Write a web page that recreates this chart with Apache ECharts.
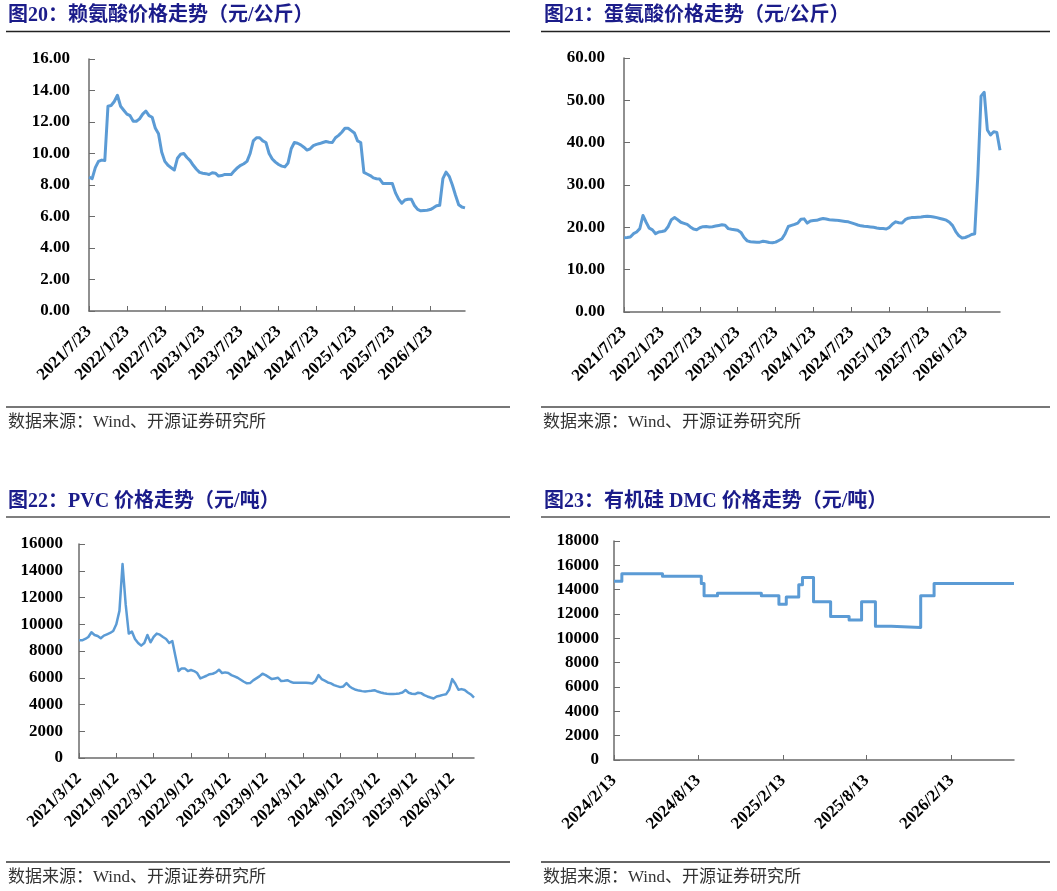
<!DOCTYPE html>
<html>
<head>
<meta charset="utf-8">
<script src="https://cdn.jsdelivr.net/npm/echarts@6/dist/echarts.min.js"></script>
<style>
  html, body { margin: 0; padding: 0; background: #fff; }
  #main { width: 1057px; height: 891px; }
</style>
</head>
<body>
<div id="main"></div>
<script>
// 赖氨酸 (元/公斤), semi-monthly from 2021/7/23
const lysineValues = [
  8.5, 8.4, 9.1, 9.5, 9.58, 9.55, 13.0, 13.05, 13.3, 13.7,
  13.0, 12.75, 12.5, 12.4, 12.05, 12.05, 12.2, 12.5, 12.7, 12.4,
  12.3, 11.6, 11.25, 10.1, 9.5, 9.25, 9.1, 8.95, 9.7, 9.95,
  10.0, 9.75, 9.55, 9.25, 9.0, 8.8, 8.75, 8.72, 8.67, 8.78,
  8.75, 8.57, 8.6, 8.67, 8.67, 8.67, 8.9, 9.1, 9.25, 9.35,
  9.5, 10.0, 10.8, 11.0, 11.0, 10.8, 10.7, 10.0, 9.65, 9.45,
  9.3, 9.2, 9.15, 9.4, 10.3, 10.7, 10.65, 10.55, 10.4, 10.22,
  10.3, 10.5, 10.58, 10.63, 10.7, 10.76, 10.72, 10.7, 11.0, 11.15,
  11.35, 11.6, 11.6, 11.45, 11.3, 10.8, 10.7, 8.8, 8.7, 8.6,
  8.45, 8.4, 8.38, 8.1, 8.1, 8.1, 8.1, 7.5, 7.1, 6.84,
  7.05, 7.1, 7.1, 6.7, 6.45, 6.36, 6.38, 6.4, 6.44, 6.55,
  6.68, 6.71, 8.4, 8.82, 8.55, 8.0, 7.35, 6.75, 6.6, 6.55
];
// 蛋氨酸 (元/公斤), same dates
const methionineValues = [
  17.55, 17.6, 17.7, 18.5, 18.9, 19.7, 22.8, 21.2, 19.8, 19.4,
  18.5, 18.9, 19.0, 19.2, 20.2, 21.8, 22.3, 21.8, 21.2, 20.95,
  20.7, 20.1, 19.6, 19.45, 19.9, 20.15, 20.2, 20.1, 20.15, 20.3,
  20.45, 20.6, 20.5, 19.7, 19.55, 19.45, 19.3, 18.8, 17.6, 16.8,
  16.6, 16.55, 16.5, 16.5, 16.7, 16.6, 16.4, 16.35, 16.5, 16.9,
  17.3, 18.5, 20.2, 20.45, 20.7, 21.0, 21.9, 22.0, 21.0, 21.5,
  21.6, 21.65, 21.9, 22.1, 21.95, 21.8, 21.75, 21.7, 21.6, 21.5,
  21.4, 21.3, 21.05, 20.8, 20.55, 20.35, 20.25, 20.2, 20.1, 20.0,
  19.85, 19.75, 19.7, 19.6, 20.0, 20.8, 21.3, 21.1, 21.0, 21.8,
  22.15, 22.3, 22.35, 22.4, 22.45, 22.55, 22.6, 22.55, 22.45, 22.3,
  22.1, 21.9, 21.7, 21.2, 20.4, 19.0, 18.0, 17.5, 17.6, 17.9,
  18.3, 18.5, 32.5, 51.0, 51.9, 43.0, 41.8, 42.6, 42.4, 38.2
];
// PVC (元/吨), semi-monthly from 2021/3/12
const pvcValues = [
  8800, 8800, 8900, 9050, 9400, 9200, 9125, 8950, 9150, 9250,
  9350, 9500, 10000, 11000, 14500, 11500, 9300, 9450, 8900, 8600,
  8400, 8600, 9200, 8650, 9050, 9300, 9220, 9050, 8900, 8600,
  8750, 7600, 6500, 6700, 6700, 6500, 6580, 6500, 6350, 5950,
  6050, 6150, 6270, 6300, 6400, 6600, 6350, 6400, 6350, 6200,
  6100, 6000, 5850, 5700, 5580, 5600, 5800, 5950, 6100, 6300,
  6200, 6050, 5900, 5950, 6000, 5750, 5780, 5820, 5700, 5620,
  5630, 5620, 5630, 5620, 5600, 5570, 5750, 6200, 5900, 5780,
  5650, 5580, 5450, 5370, 5300, 5350, 5600, 5350, 5200, 5100,
  5040, 5000, 4970, 5000, 5030, 5070, 4970, 4900, 4840, 4800,
  4780, 4780, 4800, 4830, 4900, 5080, 4880, 4800, 4780, 4880,
  4850, 4700, 4600, 4520, 4450, 4600, 4650, 4720, 4760, 5100,
  5900, 5550, 5100, 5150, 5080, 4900, 4750, 4520
];
// 有机硅 DMC (元/吨): price change dates and values
const dmcDates = ['2024-02-13', '2024-03-01', '2024-05-28', '2024-08-20', '2024-08-26', '2024-09-24',
  '2024-12-28', '2025-02-04', '2025-02-20', '2025-03-19', '2025-03-27', '2025-04-20', '2025-05-27',
  '2025-07-06', '2025-08-02', '2025-09-01', '2025-10-05', '2025-12-08', '2026-01-06', '2026-06-28'];
const dmcValues = [14700, 15300, 15100, 14500, 13500, 13700, 13500, 12800, 13400, 14400, 15000,
  13000, 11800, 11500, 13000, 11000, 10900, 13500, 14500, 14500];

// tick labels
const aminoTicks = ['2021/7/23', '2022/1/23', '2022/7/23', '2023/1/23', '2023/7/23',
  '2024/1/23', '2024/7/23', '2025/1/23', '2025/7/23', '2026/1/23'];
const pvcTicks = ['2021/3/12', '2021/9/12', '2022/3/12', '2022/9/12', '2023/3/12', '2023/9/12',
  '2024/3/12', '2024/9/12', '2025/3/12', '2025/9/12', '2026/3/12'];
const dmcTicks = ['2024-02-13', '2024-08-13', '2025-02-13', '2025-08-13', '2026-02-13'];

function ymd(y, m, d) {
  return (y + Math.floor(m / 12)) + '/' + (m % 12 + 1) + '/' + d;
}
const aminoDates = lysineValues.map((_, i) =>
  i % 2 === 0 ? ymd(2021, 6 + i / 2, 23) : ymd(2021, 7 + (i - 1) / 2, 8));
const pvcDates = pvcValues.map((_, i) =>
  i % 2 === 0 ? ymd(2021, 2 + i / 2, 12) : ymd(2021, 2 + (i - 1) / 2, 27));

function ts(s) {
  const p = s.split('-').map(Number);
  return new Date(p[0], p[1] - 1, p[2]).getTime();
}

const chart = echarts.init(document.getElementById('main'));

const AXIS_COLOR = '#6b6b6b';
const LINE_COLOR = '#5B9BD5';
const labelFont = { fontFamily: '"Liberation Serif", "Times New Roman", serif', fontWeight: 'bold', fontSize: 17, color: '#000' };

function catX(idx, dates, ticks) {
  const show = (i, v) => ticks.indexOf(v) >= 0;
  return {
    type: 'category', gridIndex: idx, data: dates, boundaryGap: false,
    axisLine: { lineStyle: { color: AXIS_COLOR, width: 1.5 } },
    axisTick: { inside: true, length: 5, interval: show, lineStyle: { color: AXIS_COLOR } },
    axisLabel: Object.assign({ interval: show, rotate: 45, margin: 18 }, labelFont),
    splitLine: { show: false }
  };
}
function valY(idx, max, step, digits, margin) {
  return {
    type: 'value', gridIndex: idx, min: 0, max: max, interval: step,
    axisLine: { show: true, lineStyle: { color: AXIS_COLOR, width: 1.5 } },
    axisTick: { show: true, inside: true, length: 6, lineStyle: { color: AXIS_COLOR } },
    axisLabel: Object.assign({ margin: margin, formatter: v => v.toFixed(digits) }, labelFont),
    splitLine: { show: false }
  };
}
function lineSeries(idx, data, extra) {
  return Object.assign({
    type: 'line', xAxisIndex: idx, yAxisIndex: idx, data: data, symbol: 'none',
    lineStyle: { color: LINE_COLOR, width: 3, join: 'round' }, animation: false
  }, extra || {});
}

function title(x, y, text) {
  return { type: 'text', x: x, y: y, style: { text: text, fontSize: 20, fontWeight: 'bold',
    fontFamily: '"Liberation Serif", "Noto Sans CJK SC", serif', fill: '#1B1C8A', verticalAlign: 'middle' } };
}
function source(x, y) {
  return { type: 'text', x: x, y: y, style: { text: '数据来源：Wind、开源证券研究所', fontSize: 17,
    fontFamily: '"Liberation Serif", "Noto Sans CJK SC", serif', fill: '#333', verticalAlign: 'middle' } };
}
function rule(x1, x2, y, color, w) {
  return { type: 'line', shape: { x1: x1, y1: y, x2: x2, y2: y }, style: { stroke: color, lineWidth: w } };
}

const dmcTickValues = dmcTicks.map(ts);

chart.setOption({
  animation: false,
  grid: [
    { left: 89, top: 59, width: 376, height: 252 },
    { left: 624, top: 58, width: 376, height: 254 },
    { left: 79, top: 544, width: 395, height: 214 },
    { left: 614, top: 541, width: 400, height: 219 }
  ],
  xAxis: [
    catX(0, aminoDates, aminoTicks),
    catX(1, aminoDates, aminoTicks),
    catX(2, pvcDates, pvcTicks),
    {
      type: 'value', gridIndex: 3, min: ts(dmcDates[0]), max: ts(dmcDates[dmcDates.length - 1]),
      axisLine: { lineStyle: { color: AXIS_COLOR, width: 1.5 } },
      axisTick: { inside: true, length: 5, customValues: dmcTickValues, lineStyle: { color: AXIS_COLOR } },
      axisLabel: Object.assign({ rotate: 45, margin: 18, customValues: dmcTickValues,
        formatter: v => { const d = new Date(v); return d.getFullYear() + '/' + (d.getMonth() + 1) + '/' + d.getDate(); } }, labelFont),
      splitLine: { show: false }
    }
  ],
  yAxis: [
    valY(0, 16, 2, 2, 19),
    valY(1, 60, 10, 2, 19),
    valY(2, 16000, 2000, 0, 16),
    valY(3, 18000, 2000, 0, 15)
  ],
  series: [
    lineSeries(0, lysineValues),
    lineSeries(1, methionineValues),
    lineSeries(2, pvcValues, { lineStyle: { color: LINE_COLOR, width: 2.5, join: 'round' } }),
    lineSeries(3, dmcDates.map((d, i) => [ts(d), dmcValues[i]]), { step: 'end' })
  ],
  graphic: [
    title(8, 16, '图20：赖氨酸价格走势（元/公斤）'),
    title(544, 16, '图21：蛋氨酸价格走势（元/公斤）'),
    title(8, 502, '图22：PVC 价格走势（元/吨）'),
    title(544, 502, '图23：有机硅 DMC 价格走势（元/吨）'),
    rule(6, 510, 31.5, '#222', 1.5),
    rule(541, 1050, 31.5, '#222', 1.5),
    rule(6, 510, 517, '#555', 1.5),
    rule(541, 1050, 517, '#555', 1.5),
    rule(6, 510, 407, '#777', 2),
    rule(541, 1050, 407, '#777', 2),
    rule(6, 510, 862, '#333', 1.5),
    rule(541, 1050, 862, '#333', 1.5),
    source(8, 423),
    source(543, 423),
    source(8, 878),
    source(543, 878)
  ]
});
</script>
</body>
</html>
